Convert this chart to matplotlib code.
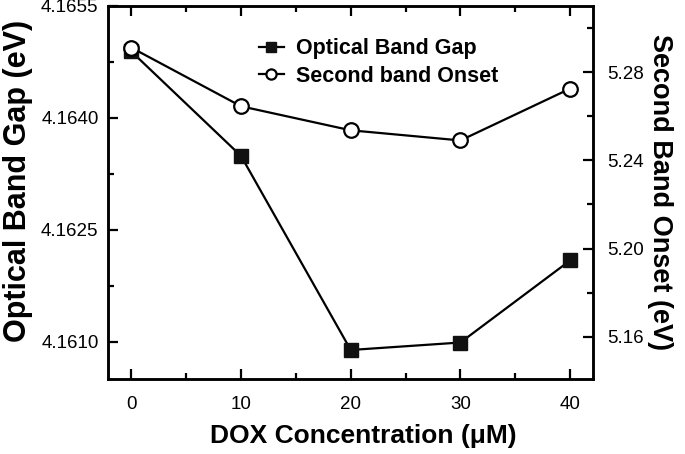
import matplotlib
matplotlib.use("Agg")
import matplotlib.pyplot as plt
from matplotlib.ticker import MultipleLocator, FormatStrFormatter

# data
dox = [0, 10, 20, 30, 40]
band_gap = [4.16489, 4.16349, 4.16089, 4.16099, 4.16209]
second_onset = [5.2911, 5.2645, 5.2536, 5.2490, 5.2725]

x_ticks = [0, 10, 20, 30, 40]
left_ticks = [4.1610, 4.1625, 4.1640, 4.1655]
right_ticks = [5.16, 5.20, 5.24, 5.28]

plt.rcParams["font.family"] = ["Liberation Sans", "DejaVu Sans"]

fig = plt.figure(figsize=(6.85, 4.54), dpi=100)
ax = fig.add_axes([0.158, 0.165, 0.708, 0.822])
ax2 = ax.twinx()

l1, = ax.plot(dox, band_gap, color="black", lw=1.6, marker="s", ms=10.5,
              mfc="#111111", mec="#111111", label="Optical Band Gap")
l2, = ax2.plot(dox, second_onset, color="black", lw=1.6, marker="o", ms=10.5,
               mfc="white", mec="black", mew=1.6, label="Second band Onset")

ax.set_xlim(-2.1, 42.1)
ax.set_ylim(4.1605, 4.1655)
ax2.set_ylim(5.1408, 5.3100)

ax.set_xticks(x_ticks)
ax.xaxis.set_minor_locator(MultipleLocator(5))
ax.set_yticks(left_ticks)
ax.yaxis.set_minor_locator(MultipleLocator(0.00075))
ax.yaxis.set_major_formatter(FormatStrFormatter("%.4f"))
ax2.set_yticks(right_ticks)
ax2.yaxis.set_minor_locator(MultipleLocator(0.02))
ax2.yaxis.set_major_formatter(FormatStrFormatter("%.2f"))

ax.tick_params(axis="both", which="both", direction="in", width=1.6, labelsize=13.5,
               top=True, right=False, pad=7)
ax.tick_params(which="major", length=7)
ax.tick_params(which="minor", length=4)
ax.tick_params(axis="x", pad=12)
ax2.tick_params(axis="y", which="both", direction="in", width=1.6, labelsize=13.5, pad=10)
ax2.tick_params(which="major", length=7)
ax2.tick_params(which="minor", length=4)

for a in (ax, ax2):
    for s in a.spines.values():
        s.set_linewidth(1.8)

ax.set_xlabel("DOX Concentration (μM)", fontsize=19, fontweight="bold", labelpad=8, x=0.525)
ax.set_ylabel("Optical Band Gap (eV)", fontsize=22, fontweight="bold", labelpad=6, y=0.53)
ax2.set_ylabel("Second Band Onset (eV)", fontsize=19.5, fontweight="bold",
               rotation=270, labelpad=21)

ax.legend(handles=[l1, l2], loc="upper left", bbox_to_anchor=(0.27, 0.965),
          frameon=False, prop={"weight": "bold", "size": 15.5},
          handlelength=1.2, handletextpad=0.55, labelspacing=0.3, markerscale=0.7)

fig.savefig("out.png", dpi=100)
